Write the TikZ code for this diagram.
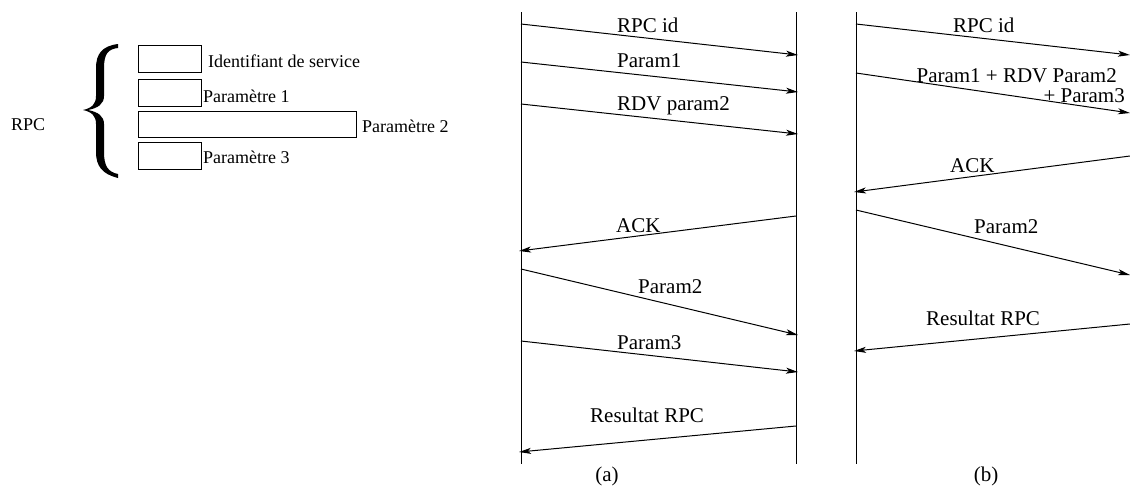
\documentclass[tikz,border=0pt]{standalone}
\usepackage{fontspec}
\setmainfont{Liberation Serif}
\usetikzlibrary{arrows.meta}
\tikzset{
  life/.style={line width=1pt},
  msg/.style={line width=1pt,-{Stealth[length=12pt,width=6pt,inset=3pt]}},
  lbl/.style={inner sep=0pt,font=\fontsize{21}{24}\selectfont},
  lbll/.style={inner sep=0pt,font=\fontsize{18}{21}\selectfont},
  fld/.style={draw,line width=1pt}
}
\begin{document}
\begin{tikzpicture}[x=1pt,y=-1pt]
\useasboundingbox (0,0) rectangle (1130,485);
% left part
\node[lbll,anchor=base west] (rpc) at (11,130) {RPC};
\fill (118,44) .. controls (102,46) and (96,54) .. (96,68) -- (96,96)
  .. controls (96,104) and (92,108) .. (83,110)
  .. controls (92,112) and (96,116) .. (96,124) -- (96,152)
  .. controls (96,166) and (102,174) .. (118,178) -- (118,174)
  .. controls (108,172) and (104,166) .. (104,152) -- (104,124)
  .. controls (104,116) and (98,112) .. (88,110)
  .. controls (98,108) and (104,104) .. (104,96) -- (104,68)
  .. controls (104,54) and (108,49) .. (118,48) -- cycle;
\node[fld,minimum width=63pt,minimum height=27pt,anchor=north west,inner sep=0pt] (b1) at (138,45) {};
\node[fld,minimum width=63pt,minimum height=27pt,anchor=north west,inner sep=0pt] (b2) at (138,79) {};
\node[fld,minimum width=218pt,minimum height=26pt,anchor=north west,inner sep=0pt] (b3) at (138,111) {};
\node[fld,minimum width=63pt,minimum height=27pt,anchor=north west,inner sep=0pt] (b4) at (138,142) {};
\node[lbll,anchor=base west] (t1) at (208,67) {Identifiant de service};
\node[lbll,anchor=base west] (t2) at (203,102) {Paramètre 1};
\node[lbll,anchor=base west] (t3) at (362,132) {Paramètre 2};
\node[lbll,anchor=base west] (t4) at (203,163) {Paramètre 3};
% diagram (a)
\coordinate (aLt) at (521,12); \coordinate (aLb) at (521,464);
\coordinate (aRt) at (796,12); \coordinate (aRb) at (796,464);
\draw[life] (aLt) -- (aLb);
\draw[life] (aRt) -- (aRb);
\coordinate (a1s) at (521,24);  \coordinate (a1e) at (798,55);
\coordinate (a2s) at (521,62);  \coordinate (a2e) at (798,92);
\coordinate (a3s) at (521,104); \coordinate (a3e) at (798,134);
\coordinate (a4s) at (796,216); \coordinate (a4e) at (519,251);
\coordinate (a5s) at (521,269); \coordinate (a5e) at (798,335);
\coordinate (a6s) at (521,341); \coordinate (a6e) at (798,372);
\coordinate (a7s) at (796,426); \coordinate (a7e) at (519,452);
\draw[msg] (a1s) -- (a1e);
\draw[msg] (a2s) -- (a2e);
\draw[msg] (a3s) -- (a3e);
\draw[msg] (a4s) -- (a4e);
\draw[msg] (a5s) -- (a5e);
\draw[msg] (a6s) -- (a6e);
\draw[msg] (a7s) -- (a7e);
\node[lbl,anchor=base west] (la1) at (617,32) {RPC id};
\node[lbl,anchor=base west] (la2) at (617,67) {Param1};
\node[lbl,anchor=base west] (la3) at (617,110) {RDV param2};
\node[lbl,anchor=base west] (la4) at (616,232) {ACK};
\node[lbl,anchor=base west] (la5) at (638,293) {Param2};
\node[lbl,anchor=base west] (la6) at (617,349) {Param3};
\node[lbl,anchor=base west] (la7) at (590,422) {Resultat RPC};
\node[lbl,anchor=base] (capa) at (607,481) {(a)};
% diagram (b)
\coordinate (bLt) at (856,12); \coordinate (bLb) at (856,464);
\draw[life] (bLt) -- (bLb);
\coordinate (b1s) at (856,24);   \coordinate (b1e) at (1130,55);
\coordinate (b2s) at (856,73);   \coordinate (b2e) at (1130,113);
\coordinate (b3s) at (1130,156); \coordinate (b3e) at (854,192);
\coordinate (b4s) at (856,210);  \coordinate (b4e) at (1130,275);
\coordinate (b5s) at (1130,324); \coordinate (b5e) at (854,351);
\draw[msg] (b1s) -- (b1e);
\draw[msg] (b2s) -- (b2e);
\draw[msg] (b3s) -- (b3e);
\draw[msg] (b4s) -- (b4e);
\draw[msg] (b5s) -- (b5e);
\node[lbl,anchor=base west] (lb1) at (953,32) {RPC id};
\node[lbl,anchor=base east] (lb2) at (1117,82) {Param1 + RDV Param2};
\node[lbl,anchor=base east] (lb2b) at (1125,102) {+ Param3};
\node[lbl,anchor=base west] (lb3) at (950,172) {ACK};
\node[lbl,anchor=base west] (lb4) at (974,233) {Param2};
\node[lbl,anchor=base west] (lb5) at (926,325) {Resultat RPC};
\node[lbl,anchor=base] (capb) at (986,481) {(b)};
\end{tikzpicture}
\end{document}
